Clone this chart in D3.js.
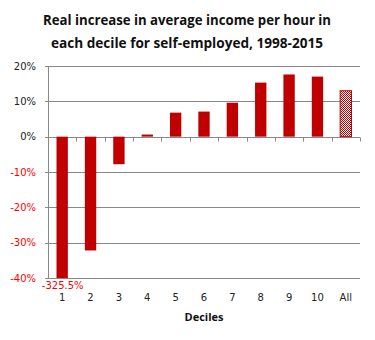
<!DOCTYPE html>
<html><head><meta charset="utf-8">
<script src="https://cdn.jsdelivr.net/npm/d3@7"></script>
<style>body{margin:0;background:#fff}svg{display:block}</style>
</head><body>
<script>
const categories = ["1","2","3","4","5","6","7","8","9","10","All"];
const values = [-325.5, -32.2, -7.8, 0.6, 6.8, 7.1, 9.6, 15.3, 17.6, 17.0, 13.0];
const yTicks = [20, 10, 0, -10, -20, -30, -40];
const titleLines = ["Real increase in average income per hour in", "each decile for self-employed, 1998-2015"];
const xTitle = "Deciles";
const clippedLabel = "-325.5%";

const W = 375, H = 340;
const m = {left: 48, right: 15, top: 66, bottom: 62};
const svg = d3.select("body").append("svg").attr("width", W).attr("height", H);

const x = d3.scaleBand().domain(categories).range([m.left, W - m.right]).paddingInner(0.6).paddingOuter(0.3);
const xb = d3.scaleBand().domain(categories).range([m.left, W - m.right]);
const y = d3.scaleLinear().domain([-40, 20]).range([H - m.bottom, m.top]);

const defs = svg.append("defs");
const pat = defs.append("pattern").attr("id","chk").attr("width",2).attr("height",2).attr("patternUnits","userSpaceOnUse");
pat.append("rect").attr("width",2).attr("height",2).attr("fill","#fff");
pat.append("rect").attr("width",1).attr("height",1).attr("fill","#C00000");
pat.append("rect").attr("x",1).attr("y",1).attr("width",1).attr("height",1).attr("fill","#C00000");

// grid
svg.append("g").selectAll("line").data(yTicks).join("line")
  .attr("x1", m.left - 3).attr("x2", W - m.right)
  .attr("y1", d => Math.round(y(d)) + 0.5).attr("y2", d => Math.round(y(d)) + 0.5)
  .attr("stroke", "#888").attr("stroke-width", 1);

// y labels
svg.append("g").selectAll("text").data(yTicks).join("text")
  .attr("x", 36).attr("y", d => y(d)).attr("dy", "0.35em")
  .attr("text-anchor", "end").attr("font-family", "DejaVu Sans").attr("font-size", 10)
  .attr("fill", d => d < 0 ? "#FF0000" : "#222")
  .text(d => d + "%");

// bars
svg.append("g").selectAll("rect").data(categories).join("rect")
  .attr("x", d => x(d)).attr("width", x.bandwidth())
  .attr("y", (d,i) => y(Math.max(0, Math.max(values[i], -40))))
  .attr("height", (d,i) => Math.abs(y(Math.max(values[i], -40)) - y(0)))
  .attr("fill", d => d === "All" ? "url(#chk)" : "#C00000")
  .attr("stroke", d => d === "All" ? "#C00000" : "none")
  .attr("stroke-width", 1);

// y axis line
svg.append("line").attr("x1", m.left + 0.5).attr("x2", m.left + 0.5)
  .attr("y1", y(20)).attr("y2", y(-40)).attr("stroke", "#888");

// x axis at 0 with ticks
const y0 = Math.round(y(0)) + 0.5;
const tickXs = categories.map(c => xb(c)).concat([W - m.right]);
svg.append("g").selectAll("line").data(tickXs).join("line")
  .attr("x1", d => Math.round(d) + 0.5).attr("x2", d => Math.round(d) + 0.5)
  .attr("y1", y0).attr("y2", y0 + 4).attr("stroke", "#888");

// x labels
svg.append("g").selectAll("text").data(categories).join("text")
  .attr("x", d => xb(d) + xb.bandwidth() / 2).attr("y", 297.5).attr("dy", "0.35em")
  .attr("text-anchor", "middle").attr("font-family", "DejaVu Sans").attr("font-size", 10)
  .attr("fill", "#222").text(d => d);

// clipped value label
svg.append("text").attr("x", xb("1") + xb.bandwidth() / 2 + 0.5).attr("y", 285.5).attr("dy", "0.35em")
  .attr("text-anchor", "middle").attr("font-family", "DejaVu Sans").attr("font-size", 10)
  .attr("fill", "#FF0000").text(clippedLabel);

// x title
svg.append("text").attr("x", (m.left + W - m.right) / 2).attr("y", 317).attr("dy", "0.35em")
  .attr("text-anchor", "middle").attr("font-family", "Open Sans").attr("font-weight", "bold")
  .attr("font-size", 11).attr("fill", "#111").text(xTitle);

// title
titleLines.forEach((t, i) => {
  svg.append("text").attr("x", 187).attr("y", 20 + i * 23).attr("dy", "0.35em")
    .attr("text-anchor", "middle").attr("font-family", "Open Sans").attr("font-weight", "bold")
    .attr("font-size", 14.5).attr("fill", "#111").attr("textLength", i === 0 ? 288 : 272)
    .attr("lengthAdjust", "spacingAndGlyphs").text(t);
});
</script>
</body></html>
